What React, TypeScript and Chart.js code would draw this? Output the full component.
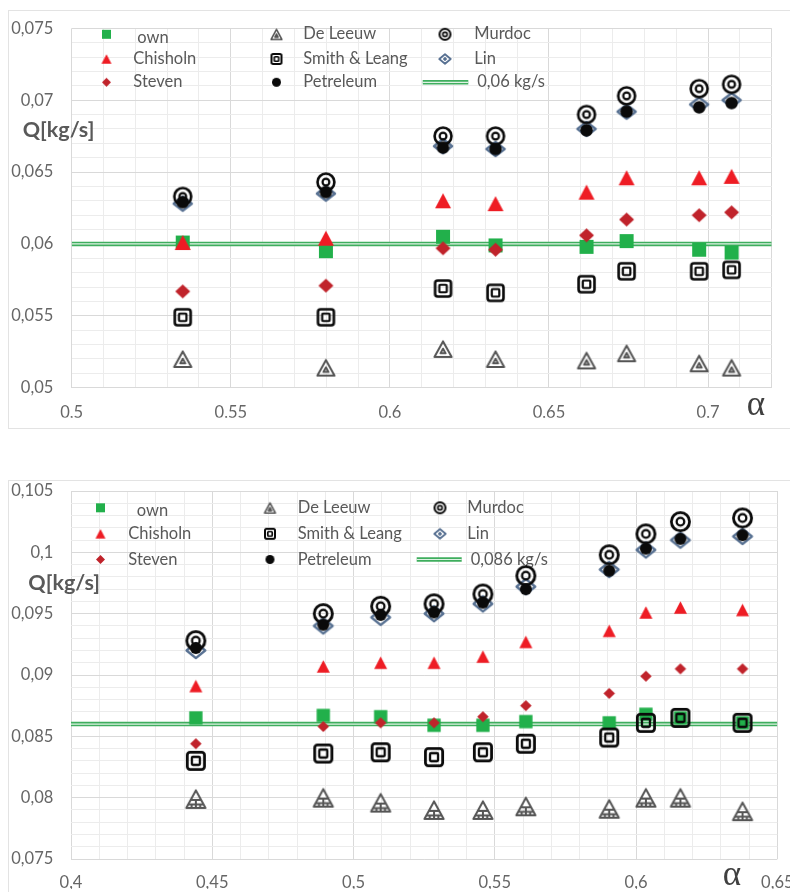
import React, { useEffect, useRef } from 'react';
import { Chart, registerables } from 'chart.js';

Chart.register(...registerables);

// ---------------- DATA: upper chart ----------------
const TOP_ALPHA = [0.5349, 0.5799, 0.6167, 0.6332, 0.6618, 0.6744, 0.6972, 0.7074];
const TOP_OWN = [0.0601, 0.0595, 0.0605, 0.0599, 0.0598, 0.0602, 0.0596, 0.0594];
const TOP_CHISHOLN = [0.0601, 0.0604, 0.063, 0.0628, 0.0636, 0.0646, 0.0646, 0.0647];
const TOP_STEVEN = [0.0567, 0.0571, 0.0597, 0.0596, 0.0606, 0.0617, 0.062, 0.0622];
const TOP_DELEEUW = [0.052, 0.0514, 0.0527, 0.052, 0.0519, 0.0524, 0.0517, 0.0514];
const TOP_SMITH = [0.0549, 0.0549, 0.0569, 0.0566, 0.0572, 0.0581, 0.0581, 0.0582];
const TOP_PETRELEUM = [0.0629, 0.0636, 0.0667, 0.0666, 0.0679, 0.0692, 0.0695, 0.0698];
const TOP_MURDOC = [0.0633, 0.0643, 0.0675, 0.0675, 0.069, 0.0703, 0.0708, 0.0711];
const TOP_LIN = [0.0628, 0.0635, 0.0668, 0.0666, 0.068, 0.0692, 0.0697, 0.07];
const TOP_REF = 0.06;
const TOP_REF_LABEL = '0,06 kg/s';
const TOP_X_RANGE = [0.5, 0.72];
const TOP_Y_RANGE = [0.05, 0.075];

// ---------------- DATA: lower chart ----------------
const BOT_ALPHA = [0.4442, 0.4893, 0.5096, 0.5285, 0.5458, 0.561, 0.5905, 0.6035, 0.6157, 0.6377];
const BOT_OWN = [0.0865, 0.0867, 0.0866, 0.0859, 0.0859, 0.0862, 0.0861, 0.0868, 0.0865, 0.0861];
const BOT_CHISHOLN = [0.0891, 0.0907, 0.091, 0.091, 0.0915, 0.0927, 0.0936, 0.0951, 0.0955, 0.0953];
const BOT_STEVEN = [0.0844, 0.0858, 0.0861, 0.0861, 0.0866, 0.0875, 0.0885, 0.0899, 0.0905, 0.0905];
const BOT_DELEEUW = [0.0799, 0.08, 0.0796, 0.079, 0.079, 0.0793, 0.0791, 0.08, 0.08, 0.0789];
const BOT_SMITH = [0.083, 0.0836, 0.0837, 0.0833, 0.0837, 0.0844, 0.0849, 0.0861, 0.0865, 0.0861];
const BOT_PETRELEUM = [0.0922, 0.0941, 0.0949, 0.0951, 0.0959, 0.097, 0.0985, 0.1003, 0.1011, 0.1014];
const BOT_MURDOC = [0.0928, 0.095, 0.0956, 0.0958, 0.0966, 0.0981, 0.0998, 0.1015, 0.1025, 0.1028];
const BOT_LIN = [0.092, 0.094, 0.0947, 0.095, 0.0958, 0.0972, 0.0986, 0.1002, 0.101, 0.1013];
const BOT_REF = 0.086;
const BOT_REF_LABEL = '0,086 kg/s';
const BOT_X_RANGE = [0.4, 0.65];
const BOT_Y_RANGE = [0.075, 0.105];

// ---------------- labels ----------------
const SERIES_NAMES = ['own', 'Chisholn', 'Steven', 'De Leeuw', 'Smith & Leang', 'Petreleum', 'Murdoc', 'Lin'];
const Y_TITLE = 'Q[kg/s]';
const X_TITLE = 'α';
const X_MAJOR = 0.05;
const X_MINOR = 0.01;
const Y_MAJOR = 0.005;
const Y_MINOR = 0.001;

// ---------------- styling ----------------
const FONT = 'Lato, "Noto Sans", sans-serif';
const TEXT = '#595959';
const TICK = '#666666';
const GREEN = '#22b04b';
const RED = '#ee1c24';
const DARKRED = '#c0232b';
const GRAY = '#555555';
const BLACK = '#0a0a0a';
const STEEL = '#587192';
const REF_GREEN = '#3fae5e';
const REF_LIGHT = '#dff2e4';

const isMul = (v: number, step: number) => Math.abs(v / step - Math.round(v / step)) < 1e-6;
const fmt = (v: number) => v.toFixed(3).replace(/\.?0+$/, '').replace('.', ',');

type Ctx = CanvasRenderingContext2D;
function mk(w: number, h: number, draw: (c: Ctx) => void): HTMLCanvasElement {
  const cv = document.createElement('canvas');
  const W = Math.ceil(w) + 4;
  const H = Math.ceil(h) + 4;
  cv.width = W;
  cv.height = H;
  const c = cv.getContext('2d')!;
  c.translate(W / 2, H / 2);
  c.lineJoin = 'round';
  draw(c);
  return cv;
}
const square = (s: number, col: string) =>
  mk(s, s, (c) => {
    c.fillStyle = col;
    c.fillRect(-s / 2, -s / 2, s, s);
  });
const triangle = (w: number, h: number, col: string) =>
  mk(w, h, (c) => {
    c.fillStyle = col;
    c.beginPath();
    c.moveTo(0, -h / 2);
    c.lineTo(w / 2, h / 2);
    c.lineTo(-w / 2, h / 2);
    c.closePath();
    c.fill();
  });
const diamond = (w: number, h: number, col: string) =>
  mk(w, h, (c) => {
    c.fillStyle = col;
    c.beginPath();
    c.moveTo(0, -h / 2);
    c.lineTo(w / 2, 0);
    c.lineTo(0, h / 2);
    c.lineTo(-w / 2, 0);
    c.closePath();
    c.fill();
  });
const dot = (d: number, col: string) =>
  mk(d, d, (c) => {
    c.fillStyle = col;
    c.beginPath();
    c.arc(0, 0, d / 2, 0, Math.PI * 2);
    c.fill();
  });
const triPath = (c: Ctx, w: number, h: number, lw: number) => {
  c.beginPath();
  c.moveTo(0, -h / 2 + lw * 0.7);
  c.lineTo(w / 2 - lw * 0.7, h / 2 - lw / 2);
  c.lineTo(-w / 2 + lw * 0.7, h / 2 - lw / 2);
  c.closePath();
};
const doubleTriangle = (w: number, h: number, lw: number, col: string) =>
  mk(w, h, (c) => {
    c.strokeStyle = col;
    c.lineWidth = lw;
    triPath(c, w, h, lw);
    c.stroke();
    const top = -h / 2 + lw * 0.7;
    const bot = h / 2 - lw / 2;
    const cy = (top + 2 * bot) / 3;
    const f = 0.3;
    const hw = (w / 2 - lw * 0.7) * f;
    c.beginPath();
    c.moveTo(0, cy + (top - cy) * f);
    c.lineTo(hw, cy + (bot - cy) * f);
    c.lineTo(-hw, cy + (bot - cy) * f);
    c.closePath();
    c.stroke();
  });
const hatchTriangle = (w: number, h: number, lw: number, col: string) =>
  mk(w, h, (c) => {
    c.strokeStyle = col;
    c.lineWidth = lw;
    triPath(c, w, h, lw);
    c.stroke();
    const top = -h / 2 + lw * 0.7;
    const bot = h / 2 - lw / 2;
    const half = w / 2 - lw * 0.7;
    const at = (p: number) => top + (bot - top) * p;
    c.beginPath();
    for (const p of [0.55, 0.8]) {
      c.moveTo(-half * p, at(p));
      c.lineTo(half * p, at(p));
    }
    c.moveTo(0, at(0.55));
    c.lineTo(0, bot);
    c.moveTo(-half * 0.45, at(0.8));
    c.lineTo(-half * 0.45, bot);
    c.moveTo(half * 0.45, at(0.8));
    c.lineTo(half * 0.45, bot);
    c.stroke();
  });
const doubleSquare = (s: number, lwo: number, lwi: number, inner: number, col: string) =>
  mk(s, s, (c) => {
    c.strokeStyle = col;
    c.lineWidth = lwo;
    const a = s - lwo;
    c.beginPath();
    c.roundRect(-a / 2, -a / 2, a, a, Math.max(1, s * 0.14));
    c.stroke();
    c.lineWidth = lwi;
    c.beginPath();
    c.roundRect(-inner / 2, -inner / 2, inner, inner, 1);
    c.stroke();
  });
const rings = (d: number, lwo: number, lwi: number, innerR: number, col: string) =>
  mk(d, d, (c) => {
    c.strokeStyle = col;
    c.lineWidth = lwo;
    c.beginPath();
    c.arc(0, 0, (d - lwo) / 2, 0, Math.PI * 2);
    c.stroke();
    c.lineWidth = lwi;
    c.beginPath();
    c.arc(0, 0, innerR, 0, Math.PI * 2);
    c.stroke();
  });
const linDiamond = (w: number, h: number, lw: number, col: string) =>
  mk(w, h, (c) => {
    c.strokeStyle = col;
    c.lineWidth = lw;
    const a = w / 2 - lw * 0.7;
    const b = h / 2 - lw * 0.7;
    c.beginPath();
    c.moveTo(0, -b);
    c.lineTo(a, 0);
    c.lineTo(0, b);
    c.lineTo(-a, 0);
    c.closePath();
    c.stroke();
    c.fillStyle = col;
    c.beginPath();
    c.moveTo(0, -2.2);
    c.lineTo(2.2, 0);
    c.lineTo(0, 2.2);
    c.lineTo(-2.2, 0);
    c.closePath();
    c.fill();
  });

interface PanelCfg {
  xs: number[];
  series: number[][];
  ref: number;
  refLabel: string;
  xRange: number[];
  yRange: number[];
  height: number;
  area: { left: number; top: number; right: number; bottom: number };
  xPad: number;
  yPad: number;
  big: boolean;
  legend: {
    markerX: number[];
    textX: number[];
    baseline: number[];
    markerDy: number;
    ownDx: number;
    ownDy: number;
    refDx: number;
    line: number[];
  };
  qPos: number[];
  aPos: number[];
  frameTop: number;
  frameBottom: number;
}

const CANVAS_W = 810;

function plotMarkers(big: boolean) {
  if (!big) {
    return [
      square(14, GREEN),
      triangle(16, 15, RED),
      diamond(15, 14, DARKRED),
      doubleTriangle(20, 18, 2, GRAY),
      doubleSquare(18.5, 2.6, 2.2, 7.5, BLACK),
      dot(12.5, BLACK),
      rings(19.5, 2.6, 2.2, 3.4, BLACK),
      linDiamond(21.5, 17.5, 2.4, STEEL),
    ];
  }
  return [
    square(13.3, GREEN),
    triangle(13, 12.5, RED),
    diamond(11.5, 11, DARKRED),
    hatchTriangle(22, 20, 2, GRAY),
    doubleSquare(20, 2.8, 2.3, 8, BLACK),
    dot(12, BLACK),
    rings(21, 2.8, 2.3, 3.8, BLACK),
    linDiamond(22, 18.5, 2.4, STEEL),
  ];
}
function legendMarkers() {
  return [
    square(9, GREEN),
    triangle(10, 9.5, RED),
    diamond(9, 9, DARKRED),
    doubleTriangle(13, 12, 1.6, GRAY),
    doubleSquare(12, 2, 1.7, 4.5, BLACK),
    dot(9, BLACK),
    rings(13, 2, 1.7, 2.2, BLACK),
    linDiamond(14, 12, 1.8, STEEL),
  ];
}

const ORDERS = [8, 7, 6, 5, 4, 1, 2, 3];
const GRID_POS = [
  [0, 0],
  [0, 1],
  [0, 2],
  [1, 0],
  [1, 1],
  [1, 2],
  [2, 0],
  [2, 1],
];

function buildConfig(p: PanelCfg): any {
  const marks = plotMarkers(p.big);
  const lmarks = legendMarkers();
  const datasets: any[] = p.series.map((ys, i) => ({
    label: SERIES_NAMES[i],
    data: p.xs.map((x, j) => ({ x, y: ys[j] })),
    pointStyle: marks[i],
    pointRadius: 10,
    pointHoverRadius: 10,
    showLine: false,
    order: ORDERS[i],
  }));
  datasets.push({
    label: p.refLabel,
    data: [
      { x: p.xRange[0], y: p.ref },
      { x: p.xRange[1], y: p.ref },
    ],
    showLine: true,
    borderColor: REF_GREEN,
    borderWidth: 4.5,
    pointRadius: 0,
    order: 100,
  });
  datasets.push({
    label: '',
    data: [
      { x: p.xRange[0], y: p.ref },
      { x: p.xRange[1], y: p.ref },
    ],
    showLine: true,
    borderColor: REF_LIGHT,
    borderWidth: 1.2,
    pointRadius: 0,
    order: 99,
  });

  const overlay = {
    id: 'overlay',
    beforeDatasetsDraw(chart: any) {
      const c: Ctx = chart.ctx;
      const L = p.legend;
      c.save();
      c.font = `16.5px ${FONT}`;
      c.fillStyle = TEXT;
      c.textBaseline = 'alphabetic';
      c.textAlign = 'left';
      GRID_POS.forEach(([col, row], i) => {
        const m = lmarks[i];
        const my = L.baseline[row] + L.markerDy;
        c.drawImage(m, L.markerX[col] - m.width / 2, my - m.height / 2);
        const isOwn = i === 0;
        c.fillText(
          SERIES_NAMES[i],
          L.textX[col] + (isOwn ? L.ownDx : 0),
          L.baseline[row] + (isOwn ? L.ownDy : 0)
        );
      });
      const ly = L.baseline[2] + L.markerDy;
      c.lineCap = 'butt';
      c.strokeStyle = REF_GREEN;
      c.lineWidth = 4.5;
      c.beginPath();
      c.moveTo(L.line[0], ly);
      c.lineTo(L.line[1], ly);
      c.stroke();
      c.strokeStyle = REF_LIGHT;
      c.lineWidth = 1.2;
      c.beginPath();
      c.moveTo(L.line[0], ly);
      c.lineTo(L.line[1], ly);
      c.stroke();
      c.fillText(p.refLabel, L.textX[2] + L.refDx, L.baseline[2]);
      c.restore();
    },
    afterDraw(chart: any) {
      const c: Ctx = chart.ctx;
      c.save();
      c.strokeStyle = '#e3e3e3';
      c.lineWidth = 1;
      c.strokeRect(8.5, p.frameTop + 0.5, CANVAS_W, p.frameBottom - p.frameTop);
      c.fillStyle = TEXT;
      c.font = `bold 21.5px ${FONT}`;
      c.textAlign = 'left';
      c.textBaseline = 'alphabetic';
      c.fillText(Y_TITLE, p.qPos[0], p.qPos[1]);
      c.fillStyle = '#404040';
      c.font = `35px "Liberation Serif", "DejaVu Serif", serif`;
      c.textAlign = 'center';
      c.fillText(X_TITLE, p.aPos[0], p.aPos[1]);
      c.restore();
    },
  };

  const gridColor = (lo: number, hi: number, major: number) => (ctx: any) => {
    const v = ctx.tick ? ctx.tick.value : 0;
    if (isMul(v, major) || Math.abs(v - lo) < 1e-9 || Math.abs(v - hi) < 1e-9) return '#d9d9d9';
    return '#ececec';
  };

  return {
    type: 'scatter',
    data: { datasets },
    plugins: [overlay],
    options: {
      animation: false,
      responsive: false,
      events: [],
      layout: {
        padding: {
          left: 0,
          top: p.area.top,
          right: CANVAS_W - p.area.right,
          bottom: p.height - p.area.bottom - 30,
        },
      },
      plugins: { legend: { display: false }, tooltip: { enabled: false } },
      scales: {
        x: {
          type: 'linear',
          min: p.xRange[0],
          max: p.xRange[1],
          afterFit: (s: any) => {
            s.height = 30;
          },
          border: { display: false },
          grid: { drawTicks: false, color: gridColor(p.xRange[0], p.xRange[1], X_MAJOR), lineWidth: 1 },
          ticks: {
            stepSize: X_MINOR,
            autoSkip: false,
            maxRotation: 0,
            minRotation: 0,
            includeBounds: false,
            padding: p.xPad,
            color: TICK,
            font: { family: FONT, size: 16.5 },
            callback: (v: number) => (isMul(v, X_MAJOR) ? fmt(v) : ''),
          },
        },
        y: {
          type: 'linear',
          min: p.yRange[0],
          max: p.yRange[1],
          afterFit: (s: any) => {
            s.width = p.area.left;
          },
          border: { display: false },
          grid: { drawTicks: false, color: gridColor(p.yRange[0], p.yRange[1], Y_MAJOR), lineWidth: 1 },
          ticks: {
            stepSize: Y_MINOR,
            autoSkip: false,
            padding: p.yPad,
            color: TICK,
            font: { family: FONT, size: 16.5 },
            callback: (v: number) => (isMul(v, Y_MAJOR) ? fmt(v) : ''),
          },
        },
      },
    },
  };
}

const TOP_PANEL: PanelCfg = {
  xs: TOP_ALPHA,
  series: [TOP_OWN, TOP_CHISHOLN, TOP_STEVEN, TOP_DELEEUW, TOP_SMITH, TOP_PETRELEUM, TOP_MURDOC, TOP_LIN],
  ref: TOP_REF,
  refLabel: TOP_REF_LABEL,
  xRange: TOP_X_RANGE,
  yRange: TOP_Y_RANGE,
  height: 440,
  area: { left: 71.7, top: 18.3, right: 771.7, bottom: 387.7 },
  xPad: 15.2,
  yPad: 18.4,
  big: false,
  legend: {
    markerX: [106.5, 276.5, 445],
    textX: [133.3, 303.3, 474.3],
    baseline: [39.3, 64, 87.3],
    markerDy: -5,
    ownDx: 4,
    ownDy: 3.4,
    refDx: 3,
    line: [422.7, 468.3],
  },
  qPos: [22.7, 137.3],
  aPos: [756, 415],
  frameTop: 10,
  frameBottom: 428,
};

const BOT_PANEL: PanelCfg = {
  xs: BOT_ALPHA,
  series: [BOT_OWN, BOT_CHISHOLN, BOT_STEVEN, BOT_DELEEUW, BOT_SMITH, BOT_PETRELEUM, BOT_MURDOC, BOT_LIN],
  ref: BOT_REF,
  refLabel: BOT_REF_LABEL,
  xRange: BOT_X_RANGE,
  yRange: BOT_Y_RANGE,
  height: 452,
  area: { left: 71, top: 51, right: 777.3, bottom: 419 },
  xPad: 13.5,
  yPad: 17.7,
  big: true,
  legend: {
    markerX: [100.5, 270, 440],
    textX: [128.3, 297.7, 467.3],
    baseline: [73.3, 99.3, 125],
    markerDy: -5.5,
    ownDx: 8.4,
    ownDy: 2.7,
    refDx: 3.4,
    line: [416.7, 461.7],
  },
  qPos: [28.3, 150],
  aPos: [732, 445],
  frameTop: 40,
  frameBottom: 600,
};

export default function App() {
  const topRef = useRef<HTMLCanvasElement>(null);
  const botRef = useRef<HTMLCanvasElement>(null);
  useEffect(() => {
    const c1 = new Chart(topRef.current as HTMLCanvasElement, buildConfig(TOP_PANEL));
    const c2 = new Chart(botRef.current as HTMLCanvasElement, buildConfig(BOT_PANEL));
    return () => {
      c1.destroy();
      c2.destroy();
    };
  }, []);
  return (
    <div
      style={{
        position: 'absolute',
        left: 0,
        top: 0,
        width: 790,
        height: 892,
        overflow: 'hidden',
        background: '#ffffff',
      }}
    >
      <canvas ref={topRef} width={CANVAS_W} height={440} style={{ position: 'absolute', left: 0, top: 0 }} />
      <canvas ref={botRef} width={CANVAS_W} height={452} style={{ position: 'absolute', left: 0, top: 440 }} />
    </div>
  );
}
